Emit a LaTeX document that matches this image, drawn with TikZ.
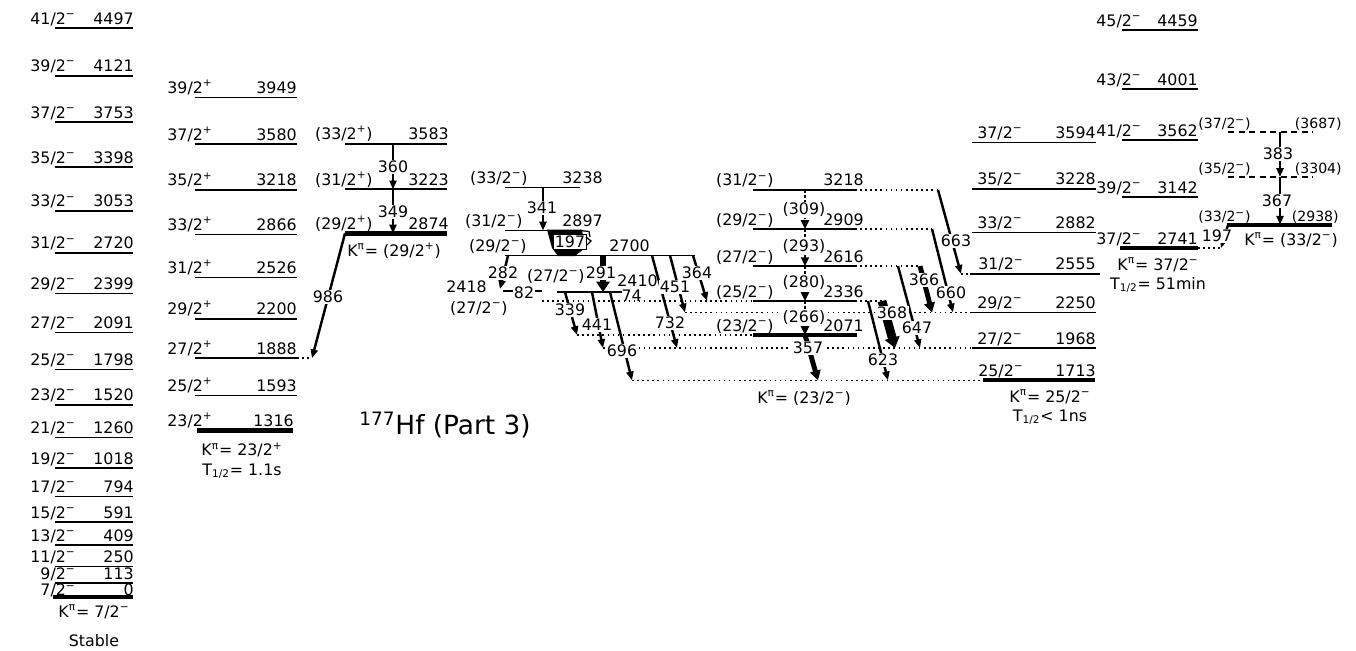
\documentclass[tikz,border=0pt]{standalone}
\usepackage{fontspec}
\setmainfont{DejaVu Sans}
\usetikzlibrary{arrows.meta}
\newcommand\lv[9]{%
 \draw[#9] (#2,#4) -- (#3,#4);
 \node[lab,anchor=base east] (#1s) at (#5,#4-4) {#6};
 \node[lab,anchor=base east] (#1e) at (#7,#4-4) {#8};}
\newcommand\lvr[5]{%
 \draw[#5] (972,#2) -- (1096,#2);
 \node[lab,anchor=base west] (#1s) at (977,#2-4) {#3};
 \node[lab,anchor=base east] (#1e) at (1096,#2-4) {#4};}
\newcommand\tr[6]{%
 \coordinate (#2a) at (#3); \coordinate (#2b) at (#4);
 \draw[#1] (#2a) -- (#2b);
 \node[tl] (#2l) at (#5) {#6};}
\newcommand\mn{\textsuperscript{−}}
\newcommand\pl{\textsuperscript{+}}
\begin{document}
\begin{tikzpicture}[x=0.02cm,y=-0.02cm,
 lvl/.style={line width=1pt},
 lvlk/.style={line width=2.4pt},
 tlev/.style={line width=1pt,dash pattern=on 3.5pt off 2.5pt},
 trn/.style={line width=1.4pt,-{Triangle[length=5pt,width=4pt]}},
 tent/.style={line width=1.6pt,dash pattern=on 1.6pt off 1.4pt,-{Triangle[length=5pt,width=4.5pt]}},
 dots/.style={line width=0.9pt,dash pattern=on 0.9pt off 2pt},
 lab/.style={font=\fontsize{9}{10}\selectfont,inner sep=0pt},
 labs/.style={font=\fontsize{8}{9}\selectfont,inner sep=0pt},
 tl/.style={lab,fill=white,inner sep=0.8pt},
]
\useasboundingbox (0,0) rectangle (1356,650);
% ---------- column 1: K=7/2- ----------
\lv{g41}{55}{133}{28.1}{76}{41/2\mn}{134}{4497}{lvl}
\lv{g39}{55}{133}{75.7}{76}{39/2\mn}{134}{4121}{lvl}
\lv{g37}{55}{133}{122.2}{76}{37/2\mn}{134}{3753}{lvl}
\lv{g35}{55}{133}{167.2}{76}{35/2\mn}{134}{3398}{lvl}
\lv{g33}{55}{133}{210.8}{76}{33/2\mn}{134}{3053}{lvl}
\lv{g31}{55}{133}{252.9}{76}{31/2\mn}{134}{2720}{lvl}
\lv{g29}{55}{133}{293.5}{76}{29/2\mn}{134}{2399}{lvl}
\lv{g27}{55}{133}{332.5}{76}{27/2\mn}{134}{2091}{lvl}
\lv{g25}{55}{133}{369.6}{76}{25/2\mn}{134}{1798}{lvl}
\lv{g23}{55}{133}{404.7}{76}{23/2\mn}{134}{1520}{lvl}
\lv{g21}{55}{133}{437.6}{76}{21/2\mn}{134}{1260}{lvl}
\lv{g19}{55}{133}{468.2}{76}{19/2\mn}{134}{1018}{lvl}
\lv{g17}{55}{133}{496.6}{76}{17/2\mn}{134}{794}{lvl}
\lv{g15}{55}{133}{522.2}{76}{15/2\mn}{134}{591}{lvl}
\lv{g13}{55}{133}{545.3}{76}{13/2\mn}{134}{409}{lvl}
\lv{g11}{55}{133}{566.5}{76}{11/2\mn}{134}{250}{lvl}
\draw[lvl] (55,582.7) -- (133,582.7);
\node[lab,anchor=base east] (g9s) at (76,579.6) {9/2\mn};
\node[lab,anchor=base east] (g9e) at (134,579.6) {113};
\draw[lvlk] (53,597) -- (133,597);
\node[lab,anchor=base east] (g7s) at (76,595.8) {7/2\mn};
\node[lab,anchor=base east] (g7e) at (134,595.8) {0};
\node[lab] (k1) at (94,612) {K\textsuperscript{π}= 7/2\mn};
\node[lab] (st1) at (94,641) {Stable};
% ---------- column 2: K=23/2+ ----------
\lv{p39}{195}{297}{97.4}{213}{39/2\pl}{297}{3949}{lvl}
\lv{p37}{195}{297}{144.1}{213}{37/2\pl}{297}{3580}{lvl}
\lv{p35}{195}{297}{189.9}{213}{35/2\pl}{297}{3218}{lvl}
\lv{p33}{195}{297}{234.4}{213}{33/2\pl}{297}{2866}{lvl}
\lv{p31}{195}{297}{277.5}{213}{31/2\pl}{297}{2526}{lvl}
\lv{p29}{195}{297}{318.7}{213}{29/2\pl}{297}{2200}{lvl}
\lv{p27}{195}{297}{358.2}{213}{27/2\pl}{297}{1888}{lvl}
\lv{p25}{195}{297}{395.5}{213}{25/2\pl}{297}{1593}{lvl}
\lv{p23}{197}{293}{430.5}{213}{23/2\pl}{294}{1316}{lvlk}
\node[lab] (k2) at (242,450) {K\textsuperscript{π}= 23/2\pl};
\node[lab] (h2) at (242,471) {T\textsubscript{1/2}= 1.1s};
% ---------- column 3: K=(29/2+) ----------
\lv{q33}{345}{447}{143.7}{373}{(33/2\pl)}{449}{3583}{lvl}
\lv{q31}{345}{447}{189.3}{373}{(31/2\pl)}{449}{3223}{lvl}
\lv{q29}{345}{447}{233.4}{373}{(29/2\pl)}{449}{2874}{lvlk}
\node[lab] (k3) at (394,251) {K\textsuperscript{π}= (29/2\pl)};
\draw[dots] (297,358.2) -- (312,358.2);
\tr{trn}{t360}{393,143.7}{393,189.3}{393,167}{360}
\tr{trn}{t349}{393,189.3}{393,233.4}{393,212}{349}
\tr{trn}{t986}{345,233.4}{312,358.2}{328,297}{986}
\node[font=\fontsize{15}{17}\selectfont,inner sep=0pt] (title) at (445,425) {\textsuperscript{177}Hf (Part 3)};
% ---------- column 4 ----------
\lv{m33}{505}{580}{187.4}{528}{(33/2\mn)}{603}{3238}{lvl}
\lv{m31}{505}{580}{230.5}{523}{(31/2\mn)}{603}{2897}{lvl}
\lv{m29}{505}{695}{255.5}{527}{(29/2\mn)}{650}{2700}{lvl}
\draw[lvl] (503,291) -- (542,291);
\node[lab,anchor=base east] (m24e) at (487,292) {2418};
\node[lab,anchor=base east] (m24s) at (508,313) {(27/2\mn)};
\draw[lvl] (557,292.1) -- (622,292.1);
\node[lab,anchor=base east] (m241s) at (585,281) {(27/2\mn)};
\node[lab,anchor=base east] (m241e) at (658,286.5) {2410};
% dotted level extensions
\draw[dots] (542,301) -- (753,301);
\draw[dots] (855,301) -- (882,301);
\draw[dots] (685,312.4) -- (972,312.4);
\draw[dots] (577,335) -- (753,335);
\draw[dots] (603,348) -- (972,348);
\draw[dots] (632,380.3) -- (983,380.3);
\draw[dots] (855,189.9) -- (938,189.9);
\draw[dots] (855,229) -- (932,229);
\draw[dots] (855,266.1) -- (920,266.1);
\draw[dots] (961,273.8) -- (970,273.8);
\draw[dots] (1198,248) -- (1221,248);
\node[lab,anchor=base east] (l74) at (642,301) {74};
\node[tl] (l82) at (524,293) {82};
\tr{trn}{t341}{543,187.4}{543,230.5}{542,208}{341}
\fill (547,229.5) -- (582,229.5) -- (585,248) -- (575,256) -- (558,256) -- (552,248) -- cycle;
\node[tl,draw,line width=0.6pt] (t197a) at (570,242) {197};
\draw[line width=0.7pt] (580,230.5) -- (589,231.5) -- (590,237);
\draw[line width=0.7pt] (586,237) -- (591,241) -- (587,245);
\tr{trn}{t282}{508,255.5}{500,289}{503,273}{282}
\tr{trn,line width=3.5pt,-{Triangle[length=6pt,width=7.5pt]}}{t291}{603,255.5}{603,292.1}{601,273}{291}
\tr{trn}{t339}{565,292.1}{577,335}{570,310}{339}
\tr{trn}{t441}{592,292.1}{603,348}{597,325}{441}
\tr{trn}{t696}{610,292.1}{632,380.3}{622,351}{696}
\tr{trn}{t732}{652,255.5}{677,348}{670,323}{732}
\tr{trn}{t451}{670,255.5}{685,312.4}{675,287}{451}
\tr{trn}{t364}{693,255.5}{707,301}{697,273}{364}
% ---------- column 5: K=(23/2-) ----------
\lv{n31}{753}{855}{189.9}{774}{(31/2\mn)}{864}{3218}{lvl}
\lv{n29}{753}{855}{229}{774}{(29/2\mn)}{864}{2909}{lvl}
\lv{n27}{753}{855}{266.1}{774}{(27/2\mn)}{864}{2616}{lvl}
\lv{n25}{753}{855}{301}{774}{(25/2\mn)}{864}{2336}{lvl}
\lv{n23}{753}{857}{335}{774}{(23/2\mn)}{864}{2071}{lvlk}
\node[lab] (k5) at (804,398) {K\textsuperscript{π}= (23/2\mn)};
\tr{tent}{t309}{805,189.9}{805,229}{804,210}{(309)}
\tr{tent}{t293}{805,229}{805,266.1}{804,247}{(293)}
\tr{tent}{t280}{805,266.1}{805,301}{804,283}{(280)}
\tr{tent}{t266}{805,301}{805,335}{804,318}{(266)}
\tr{trn,line width=2.8pt,-{Triangle[length=5.5pt,width=6pt]}}{t357}{805,335}{818,380.3}{808,348}{357}
\tr{trn}{t663}{938,189.9}{961,273.8}{956,241}{663}
\tr{trn}{t660}{932,229}{953,312.4}{951,293}{660}
\tr{trn,line width=2.8pt,-{Triangle[length=5.5pt,width=6pt]}}{t366}{920,266.1}{932,312.4}{924,280}{366}
\tr{trn}{t647}{898,266.1}{920,348}{917,328}{647}
\tr{trn,line width=5pt,-{Triangle[length=6pt,width=8.5pt]}}{t368}{882,301}{895,348}{892,313}{368}
\tr{trn}{t623}{868,301}{888,380.3}{883,360}{623}
% ---------- column 6: K=25/2- ----------
\lvr{r37}{142.4}{37/2\mn}{3594}{lvl}
\lvr{r35}{188.7}{35/2\mn}{3228}{lvl}
\lvr{r33}{232.4}{33/2\mn}{2882}{lvl}
\draw[lvl] (970,273.8) -- (1100,273.8);
\node[lab,anchor=base west] (r31s) at (978,269.8) {31/2\mn};
\node[lab,anchor=base east] (r31e) at (1096,269.8) {2555};
\lvr{r29}{312.4}{29/2\mn}{2250}{lvl}
\lvr{r27}{348}{27/2\mn}{1968}{lvl}
\draw[lvlk] (983,380.3) -- (1095,380.3);
\node[lab,anchor=base west] (r25s) at (978,376.3) {25/2\mn};
\node[lab,anchor=base east] (r25e) at (1096,376.3) {1713};
\node[lab] (k6) at (1050,397) {K\textsuperscript{π}= 25/2\mn};
\node[lab] (h6) at (1050,417) {T\textsubscript{1/2}< 1ns};
% ---------- column 7: K=37/2- ----------
\lv{s45}{1122}{1198}{30}{1142}{45/2\mn}{1198}{4459}{lvl}
\lv{s43}{1122}{1198}{89}{1142}{43/2\mn}{1198}{4001}{lvl}
\lv{s41}{1122}{1198}{140}{1142}{41/2\mn}{1198}{3562}{lvl}
\lv{s39}{1122}{1198}{197}{1142}{39/2\mn}{1198}{3142}{lvl}
\lv{s37}{1120}{1198}{248}{1142}{37/2\mn}{1198}{2741}{lvlk}
\node[lab] (k7) at (1158,265) {K\textsuperscript{π}= 37/2\mn};
\node[lab] (h7) at (1158,285) {T\textsubscript{1/2}= 51min};
% ---------- column 8: K=(33/2-) ----------
\draw[tlev] (1228,132) -- (1313,132);
\node[labs,anchor=base east] (u37s) at (1251,128) {(37/2\mn)};
\node[labs,anchor=base east] (u37e) at (1342,128) {(3687)};
\draw[tlev] (1228,177) -- (1313,177);
\node[labs,anchor=base east] (u35s) at (1251,173) {(35/2\mn)};
\node[labs,anchor=base east] (u35e) at (1342,173) {(3304)};
\draw[lvlk] (1227,224.7) -- (1332,224.7);
\node[labs,anchor=base east] (u33s) at (1251,221) {(33/2\mn)};
\node[labs,anchor=base east] (u33e) at (1339,221) {(2938)};
\node[lab] (k8) at (1291,240) {K\textsuperscript{π}= (33/2\mn)};
\tr{trn}{t383}{1280,132}{1280,177}{1278,154}{383}
\tr{trn}{t367}{1280,177}{1280,224.7}{1277,201}{367}
\tr{trn}{t197b}{1228,225}{1221,248}{1217,236}{197}
\end{tikzpicture}
\end{document}
